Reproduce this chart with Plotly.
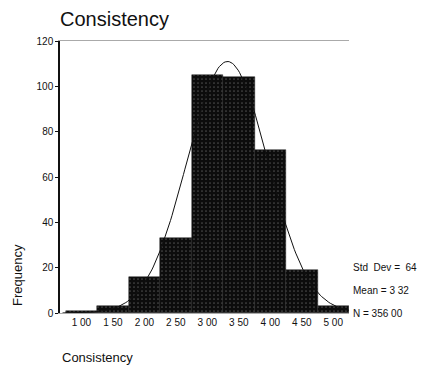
import numpy as np
import plotly.graph_objects as go

bin_centers = [1.0, 1.5, 2.0, 2.5, 3.0, 3.5, 4.0, 4.5, 5.0]
counts = [1, 3, 16, 33, 105, 104, 72, 19, 3]
tick_vals = [1.0, 1.5, 2.0, 2.5, 3.0, 3.5, 4.0, 4.5, 5.0]
tick_text = ["1 00", "1 50", "2 00", "2 50", "3 00", "3 50", "4 00", "4 50", "5 00"]
y_ticks = [0, 20, 40, 60, 80, 100, 120]
stat_lines = ["Std  Dev =  64", "Mean = 3 32", "N = 356 00"]
MEAN, SD, N, BIN_W = 3.32, 0.64, 356, 0.5

FONT = "Liberation Sans, Arial, sans-serif"

fig = go.Figure()
fig.add_trace(go.Bar(
    x=bin_centers, y=counts, width=BIN_W,
    marker=dict(color="#0c0c0c", line=dict(color="#222", width=0.5),
                pattern=dict(shape=".", fgcolor="#8a8a8a", bgcolor="#0c0c0c",
                             size=4, solidity=0.15)),
    showlegend=False,
))

xs = np.linspace(0.70, 5.25, 200)
ys = N * BIN_W / (SD * np.sqrt(2 * np.pi)) * np.exp(-0.5 * ((xs - MEAN) / SD) ** 2)
fig.add_trace(go.Scatter(x=xs, y=ys, mode="lines",
                         line=dict(color="#111", width=1), showlegend=False))

fig.update_layout(
    width=421, height=374,
    margin=dict(l=60, r=72, t=41, b=61),
    paper_bgcolor="white", plot_bgcolor="white",
    font=dict(family=FONT, color="#111"),
    title=dict(text="Consistency", x=60 / 421, xanchor="left", y=1 - 19 / 374,
               yanchor="middle", font=dict(size=20, family=FONT, color="#111")),
    bargap=0,
)
fig.update_xaxes(range=[0.66, 5.25], tickvals=tick_vals, ticktext=tick_text,
                 showgrid=False, zeroline=False, showline=True, linecolor="#aaa",
                 mirror=True, linewidth=1, ticks="", tickfont=dict(size=10, color="#111"))
fig.update_yaxes(range=[0, 120], tickvals=y_ticks, showgrid=False, zeroline=False,
                 showline=True, linecolor="#111", linewidth=1.5, ticks="outside",
                 ticklen=3, tickcolor="#111", tickfont=dict(size=10, color="#111"))

fig.add_annotation(text="Frequency", xref="paper", yref="paper", x=-42 / 289, y=0.14,
                   textangle=-90, showarrow=False, xanchor="center", yanchor="middle",
                   font=dict(size=13, family=FONT, color="#111"))
fig.add_annotation(text="Consistency", xref="paper", yref="paper", x=0, y=-44 / 272,
                   showarrow=False, xanchor="left", yanchor="middle",
                   font=dict(size=13, family=FONT, color="#111"))
for i, s in enumerate(stat_lines):
    fig.add_annotation(text=s, xref="paper", yref="y", x=1.0, xshift=2, y=20 - i * 10,
                       showarrow=False, xanchor="left", yanchor="middle",
                       font=dict(size=10, family=FONT, color="#111"))

fig.write_html("out.html")
